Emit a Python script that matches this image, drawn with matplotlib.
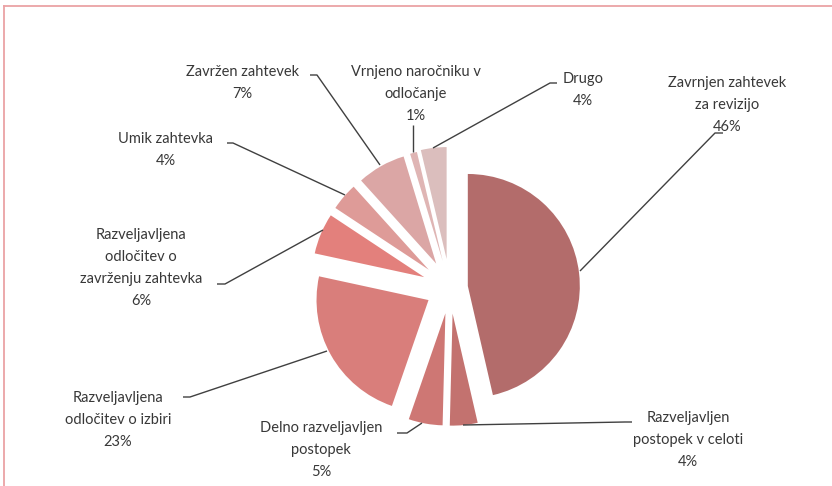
import matplotlib
matplotlib.use("Agg")
import matplotlib.pyplot as plt
from matplotlib.lines import Line2D

W, H = 832, 486

labels = ["Zavrnjen zahtevek\nza revizijo", "Razveljavljen\npostopek v celoti",
          "Delno razveljavljen\npostopek", "Razveljavljena\nodločitev o izbiri",
          "Razveljavljena\nodločitev o\nzavrženju zahtevka", "Umik zahtevka",
          "Zavržen zahtevek", "Vrnjeno naročniku v\nodločanje", "Drugo"]
values = [46.4, 4.0, 4.9, 23.1, 5.9, 4.0, 7.0, 1.0, 3.7]
pct_labels = ["46%", "4%", "5%", "23%", "6%", "4%", "7%", "1%", "4%"]
colors = ["#B36C6B", "#C3726F", "#CE7774", "#D97E7B", "#E3807C",
          "#DE9B98", "#DBA6A5", "#DFB5B4", "#DBBEBD"]
explode_frac = [0.16, 0.23, 0.23, 0.22, 0.25, 0.25, 0.25, 0.25, 0.26]

# label centres and leader polylines (image pixel coords)
label_pos = [(727, 105), (688, 440), (321, 450), (118, 420), (141, 268),
             (166, 150), (242, 83), (416, 94), (583, 90)]
leaders = [
    [(723, 133), (715, 133), (580, 271)],
    [(632, 422), (625, 422), (463, 425)],
    [(397, 433), (407, 433), (422, 423)],
    [(183, 397), (190, 397), (327, 351)],
    [(217, 284), (225, 284), (323, 230)],
    [(227, 143), (233, 143), (345, 195)],
    [(310, 75), (317, 75), (380, 165)],
    [(413, 125), (413, 152)],
    [(557, 83), (550, 83), (433, 148)],
]

fig = plt.figure(figsize=(W / 100, H / 100), dpi=100)
ax = fig.add_axes([0, 0, 1, 1])

cx, cy, R = 450, H - 288, 112
ax.pie(values, colors=colors, explode=[e * R for e in explode_frac],
       startangle=90, counterclock=False,
       radius=R, center=(cx, cy), frame=False,
       wedgeprops=dict(linewidth=0))
ax.set_xlim(0, W)
ax.set_ylim(0, H)
ax.set_aspect("equal")
ax.axis("off")

for pts in leaders:
    xs = [p[0] for p in pts]
    ys = [H - p[1] for p in pts]
    ax.plot(xs, ys, color="#404040", lw=1.0, solid_capstyle="butt")

for lab, pct, (x, y) in zip(labels, pct_labels, label_pos):
    ax.text(x, H - y, lab + "\n" + pct, ha="center", va="center",
            fontsize=10.5, family=["Lato", "DejaVu Sans"], color="#383838",
            linespacing=1.72)

# partial border (top and left)
fig.add_artist(Line2D([4 / W, 1], [1 - 6 / H, 1 - 6 / H], color="#EBA3A5", lw=1.3))
fig.add_artist(Line2D([4 / W, 4 / W], [0, 1 - 6 / H], color="#EBA3A5", lw=1.3))

fig.savefig("out.png", dpi=100, facecolor="white")
